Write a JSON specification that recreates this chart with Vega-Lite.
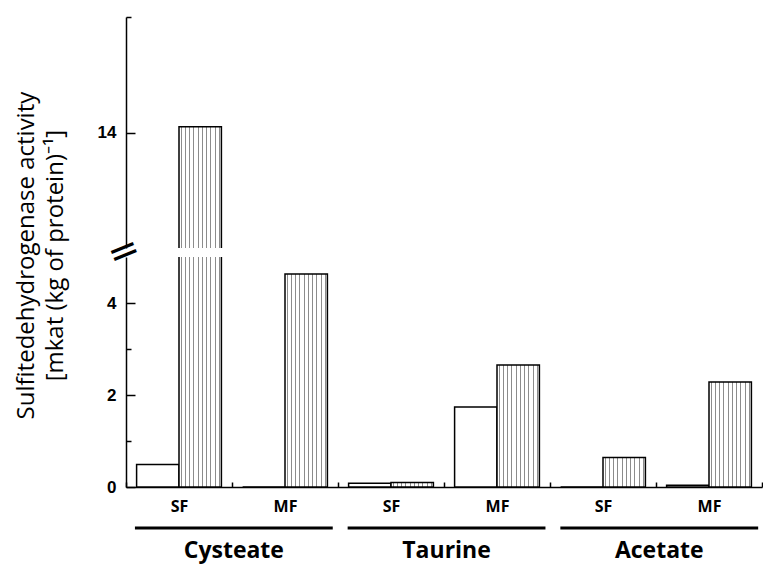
{
  "$schema": "https://vega.github.io/schema/vega-lite/v6.json",
  "background": "white",
  "padding": {"left": 14, "top": 16, "right": 0, "bottom": 45},
  "bounds": "flush",
  "title": {
    "text": ["Sulfitedehydrogenase activity", "[mkat (kg of protein)⁻¹]"],
    "orient": "left",
    "anchor": "middle",
    "font": "Open Sans",
    "fontSize": 24,
    "fontWeight": "normal",
    "lineHeight": 29,
    "offset": 28,
    "dx": 34,
    "color": "black"
  },
  "datasets": {
    "bars": [
      {"group": "Cysteate SF", "series": "white", "value": 0.49},
      {"group": "Cysteate SF", "series": "hatched", "value": 14.1},
      {"group": "Cysteate MF", "series": "white", "value": 0},
      {"group": "Cysteate MF", "series": "hatched", "value": 4.63},
      {"group": "Taurine SF", "series": "white", "value": 0.08},
      {"group": "Taurine SF", "series": "hatched", "value": 0.1},
      {"group": "Taurine MF", "series": "white", "value": 1.74},
      {"group": "Taurine MF", "series": "hatched", "value": 2.65},
      {"group": "Acetate SF", "series": "white", "value": 0},
      {"group": "Acetate SF", "series": "hatched", "value": 0.64},
      {"group": "Acetate MF", "series": "white", "value": 0.04},
      {"group": "Acetate MF", "series": "hatched", "value": 2.28}
    ],
    "subs": [
      {"substance": "Cysteate"},
      {"substance": "Taurine"},
      {"substance": "Acetate"}
    ],
    "brk": [{"note": "axis break"}]
  },
  "spacing": 9,
  "config": {
    "view": {"stroke": null},
    "axis": {
      "domainColor": "black",
      "domainWidth": 1.5,
      "tickColor": "black",
      "tickWidth": 1.5,
      "labelColor": "black",
      "labelFont": "Liberation Sans",
      "labelFontWeight": "bold",
      "labelFontSize": 17,
      "grid": false
    }
  },
  "vconcat": [
    {
      "width": 636,
      "height": 231,
      "data": {"name": "bars"},
      "transform": [{"filter": "datum.value > 12"}],
      "encoding": {
        "x": {"field": "group", "type": "nominal", "sort": null, "axis": null,
              "scale": {"domain": ["Cysteate SF", "Cysteate MF", "Taurine SF", "Taurine MF", "Acetate SF", "Acetate MF"], "paddingInner": 0, "paddingOuter": 0}},
        "xOffset": {"field": "series", "type": "nominal", "scale": {"domain": ["white", "hatched"], "paddingInner": 0, "paddingOuter": 0.25}},
        "y": {"field": "value", "type": "quantitative",
              "scale": {"domain": [12, 16], "nice": false, "zero": false},
              "axis": {"values": [14, 16], "title": null, "labelExpr": "datum.value == 14 ? '14' : ''",
                       "tickSize": {"condition": {"test": "datum.value == 16", "value": -5}, "value": -9},
                       "labelPadding": 19, "minExtent": 30, "maxExtent": 30}},
        "y2": {"datum": 0}
      },
      "layer": [
        {"transform": [{"filter": "datum.series === 'white'"}],
         "mark": {"type": "bar", "clip": true, "fill": "white", "stroke": "black", "strokeWidth": 1.5}},
        {"transform": [{"filter": "datum.series === 'hatched'"}],
         "mark": {"type": "bar", "clip": true, "stroke": "black", "strokeWidth": 1.5,
                  "fill": {"gradient": "linear", "x1": 0, "y1": 0, "x2": 1, "y2": 0, "stops": [
                    {"offset": 0, "color": "white"},
                    {"offset": 0.04, "color": "white"}, {"offset": 0.04, "color": "#8c8c8c"}, {"offset": 0.065, "color": "#8c8c8c"}, {"offset": 0.065, "color": "white"},
                    {"offset": 0.14, "color": "white"}, {"offset": 0.14, "color": "#8c8c8c"}, {"offset": 0.165, "color": "#8c8c8c"}, {"offset": 0.165, "color": "white"},
                    {"offset": 0.24, "color": "white"}, {"offset": 0.24, "color": "#8c8c8c"}, {"offset": 0.265, "color": "#8c8c8c"}, {"offset": 0.265, "color": "white"},
                    {"offset": 0.34, "color": "white"}, {"offset": 0.34, "color": "#8c8c8c"}, {"offset": 0.365, "color": "#8c8c8c"}, {"offset": 0.365, "color": "white"},
                    {"offset": 0.44, "color": "white"}, {"offset": 0.44, "color": "#8c8c8c"}, {"offset": 0.465, "color": "#8c8c8c"}, {"offset": 0.465, "color": "white"},
                    {"offset": 0.54, "color": "white"}, {"offset": 0.54, "color": "#8c8c8c"}, {"offset": 0.565, "color": "#8c8c8c"}, {"offset": 0.565, "color": "white"},
                    {"offset": 0.64, "color": "white"}, {"offset": 0.64, "color": "#8c8c8c"}, {"offset": 0.665, "color": "#8c8c8c"}, {"offset": 0.665, "color": "white"},
                    {"offset": 0.74, "color": "white"}, {"offset": 0.74, "color": "#8c8c8c"}, {"offset": 0.765, "color": "#8c8c8c"}, {"offset": 0.765, "color": "white"},
                    {"offset": 0.84, "color": "white"}, {"offset": 0.84, "color": "#8c8c8c"}, {"offset": 0.865, "color": "#8c8c8c"}, {"offset": 0.865, "color": "white"},
                    {"offset": 0.94, "color": "white"}, {"offset": 0.94, "color": "#8c8c8c"}, {"offset": 0.965, "color": "#8c8c8c"}, {"offset": 0.965, "color": "white"},
                    {"offset": 1, "color": "white"}
                  ]}}}
      ]
    },
    {
      "width": 636,
      "height": 230,
      "layer": [
        {
          "encoding": {
            "x": {"field": "group", "type": "nominal", "sort": null,
                  "scale": {"domain": ["Cysteate SF", "Cysteate MF", "Taurine SF", "Taurine MF", "Acetate SF", "Acetate MF"], "paddingInner": 0, "paddingOuter": 0},
                  "axis": {"title": null, "labelExpr": "split(datum.label, ' ')[1]", "labelAngle": 0, "tickBand": "extent", "tickSize": -5,
                           "labelPadding": 16, "labelFont": "Open Sans", "labelFontWeight": "bold", "labelFontSize": 16}},
            "y": {"type": "quantitative",
                  "scale": {"domain": [0, 5], "nice": false},
                  "axis": {"values": [0, 1, 2, 3, 4], "title": null, "labelExpr": "datum.value % 2 == 0 ? datum.label : ''",
                           "tickSize": {"condition": {"test": "datum.value % 2 == 1", "value": -5}, "value": -9},
                           "labelPadding": 19, "minExtent": 30, "maxExtent": 30}}
          },
          "layer": [
            {"data": {"name": "bars"},
             "transform": [{"filter": "datum.series === 'white'"}],
             "mark": {"type": "bar", "clip": true, "fill": "white", "stroke": "black", "strokeWidth": 1.5},
             "encoding": {"y": {"field": "value", "type": "quantitative"},
                          "xOffset": {"field": "series", "type": "nominal", "scale": {"domain": ["white", "hatched"], "paddingInner": 0, "paddingOuter": 0.25}}}},
            {"data": {"name": "bars"},
             "transform": [{"filter": "datum.series === 'hatched'"}],
             "mark": {"type": "bar", "clip": true, "stroke": "black", "strokeWidth": 1.5,
                      "fill": {"gradient": "linear", "x1": 0, "y1": 0, "x2": 1, "y2": 0, "stops": [
                        {"offset": 0, "color": "white"},
                        {"offset": 0.04, "color": "white"}, {"offset": 0.04, "color": "#8c8c8c"}, {"offset": 0.065, "color": "#8c8c8c"}, {"offset": 0.065, "color": "white"},
                        {"offset": 0.14, "color": "white"}, {"offset": 0.14, "color": "#8c8c8c"}, {"offset": 0.165, "color": "#8c8c8c"}, {"offset": 0.165, "color": "white"},
                        {"offset": 0.24, "color": "white"}, {"offset": 0.24, "color": "#8c8c8c"}, {"offset": 0.265, "color": "#8c8c8c"}, {"offset": 0.265, "color": "white"},
                        {"offset": 0.34, "color": "white"}, {"offset": 0.34, "color": "#8c8c8c"}, {"offset": 0.365, "color": "#8c8c8c"}, {"offset": 0.365, "color": "white"},
                        {"offset": 0.44, "color": "white"}, {"offset": 0.44, "color": "#8c8c8c"}, {"offset": 0.465, "color": "#8c8c8c"}, {"offset": 0.465, "color": "white"},
                        {"offset": 0.54, "color": "white"}, {"offset": 0.54, "color": "#8c8c8c"}, {"offset": 0.565, "color": "#8c8c8c"}, {"offset": 0.565, "color": "white"},
                        {"offset": 0.64, "color": "white"}, {"offset": 0.64, "color": "#8c8c8c"}, {"offset": 0.665, "color": "#8c8c8c"}, {"offset": 0.665, "color": "white"},
                        {"offset": 0.74, "color": "white"}, {"offset": 0.74, "color": "#8c8c8c"}, {"offset": 0.765, "color": "#8c8c8c"}, {"offset": 0.765, "color": "white"},
                        {"offset": 0.84, "color": "white"}, {"offset": 0.84, "color": "#8c8c8c"}, {"offset": 0.865, "color": "#8c8c8c"}, {"offset": 0.865, "color": "white"},
                        {"offset": 0.94, "color": "white"}, {"offset": 0.94, "color": "#8c8c8c"}, {"offset": 0.965, "color": "#8c8c8c"}, {"offset": 0.965, "color": "white"},
                        {"offset": 1, "color": "white"}
                      ]}},
             "encoding": {"y": {"field": "value", "type": "quantitative"},
                          "xOffset": {"field": "series", "type": "nominal", "scale": {"domain": ["white", "hatched"], "paddingInner": 0, "paddingOuter": 0.25}}}},
            {"data": {"name": "brk"},
             "mark": {"type": "text", "text": "=", "font": "DejaVu Sans", "fontSize": 38, "angle": -22, "align": "center", "baseline": "middle", "color": "black", "dy": -5},
             "encoding": {"x": {"datum": "Cysteate SF", "bandPosition": 0}, "y": {"datum": 5}}}
          ]
        },
        {
          "data": {"name": "subs"},
          "encoding": {
            "x": {"field": "substance", "type": "nominal", "sort": null, "axis": null,
                  "scale": {"domain": ["Cysteate", "Taurine", "Acetate"], "paddingInner": 0.07, "paddingOuter": 0.03, "align": 0.7}}
          },
          "layer": [
            {"mark": {"type": "bar", "color": "black"},
             "encoding": {"y": {"datum": -0.86}, "y2": {"datum": -0.925}}},
            {"mark": {"type": "text", "font": "Open Sans", "fontWeight": "bold", "fontSize": 23, "baseline": "middle", "color": "black"},
             "encoding": {"y": {"datum": -1.39}, "text": {"field": "substance"}}}
          ]
        }
      ],
      "resolve": {"scale": {"x": "independent"}}
    }
  ]
}
